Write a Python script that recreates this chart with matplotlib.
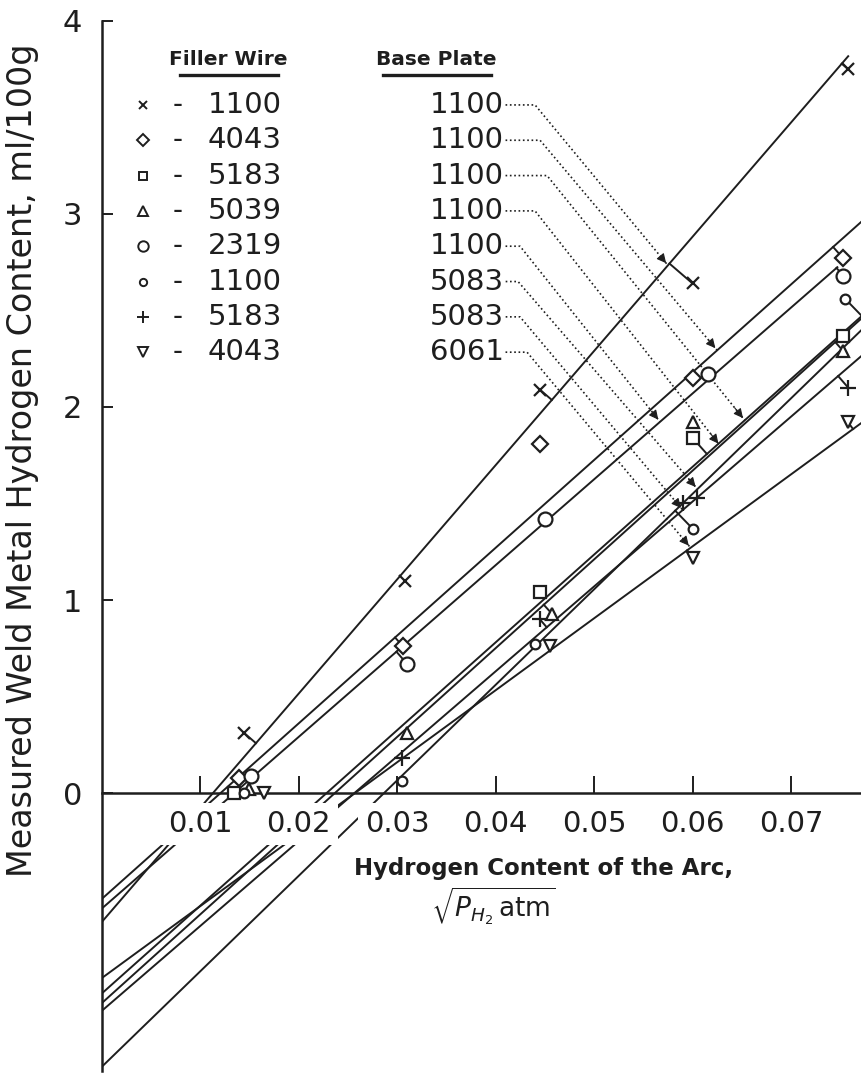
import numpy as np
import matplotlib.pyplot as plt

plt.rcParams['font.family'] = ['DejaVu Sans']
plt.rcParams['mathtext.fontset'] = 'dejavusans'

INK = '#1e1e1e'

# filler wire / base plate combinations
filler = ['1100', '4043', '5183', '5039', '2319', '1100', '5183', '4043']
base = ['1100', '1100', '1100', '1100', '1100', '5083', '5083', '6061']
markers = ['x', 'D', 's', '^', 'o', 'o', '+', 'v']
msizes = [8, 8, 8, 9, 10, 7, 11, 9]

# fitted lines: y = intercept + slope * x
intercepts = [-0.67, -0.55, -1.04, -1.09, -0.60, -1.42, -1.13, -0.96]
slopes = [59.2, 45.5, 45.5, 46.0, 44.5, 49.5, 44.0, 37.3]
x_end = [0.0758, 0.078, 0.078, 0.078, 0.0747, 0.078, 0.078, 0.078]

# measured points, sqrt(P_H2) vs ml/100g
x_1100_1100 = [0.0145, 0.0308, 0.0445, 0.0600, 0.0758]
y_1100_1100 = [0.31, 1.10, 2.09, 2.64, 3.75]
x_4043_1100 = [0.0140, 0.0306, 0.0445, 0.0600, 0.0753]
y_4043_1100 = [0.08, 0.76, 1.81, 2.15, 2.77]
x_5183_1100 = [0.0135, 0.0445, 0.0600, 0.0753]
y_5183_1100 = [0.00, 1.04, 1.84, 2.37]
x_5039_1100 = [0.0150, 0.0310, 0.0457, 0.0600, 0.0753]
y_5039_1100 = [0.02, 0.31, 0.93, 1.92, 2.29]
x_2319_1100 = [0.0152, 0.0310, 0.0450, 0.0616, 0.0753]
y_2319_1100 = [0.09, 0.67, 1.42, 2.17, 2.68]
x_1100_5083 = [0.0145, 0.0305, 0.0440, 0.0600, 0.0755]
y_1100_5083 = [0.00, 0.06, 0.77, 1.37, 2.56]
x_5183_5083 = [0.0305, 0.0445, 0.0590, 0.0605, 0.0758]
y_5183_5083 = [0.18, 0.90, 1.50, 1.53, 2.10]
x_4043_6061 = [0.0165, 0.0455, 0.0600, 0.0758]
y_4043_6061 = [0.00, 0.76, 1.22, 1.92]

xs = [x_1100_1100, x_4043_1100, x_5183_1100, x_5039_1100,
      x_2319_1100, x_1100_5083, x_5183_5083, x_4043_6061]
ys = [y_1100_1100, y_4043_1100, y_5183_1100, y_5039_1100,
      y_2319_1100, y_1100_5083, y_5183_5083, y_4043_6061]

# where each leader arrow lands on its line
arrow_x = [0.0575, 0.0625, 0.0653, 0.0628, 0.0567, 0.0605, 0.0590, 0.0598]

xticks = [0.01, 0.02, 0.03, 0.04, 0.05, 0.06, 0.07]
xtick_labels = ['0.01', '0.02', '0.03', '0.04', '0.05', '0.06', '0.07']
yticks = [0, 1, 2, 3, 4]

fig = plt.figure(figsize=(8.61, 10.81), dpi=100)
ax = fig.add_axes([0.1179, 0.0093, 0.8821, 0.9713])
ax.set_xlim(0, 0.0771)
ax.set_ylim(-1.44, 4.0)
ax.set_axisbelow(False)

for s in ['top', 'right']:
    ax.spines[s].set_visible(False)
ax.spines['bottom'].set_position(('data', 0))
for s in ['left', 'bottom']:
    ax.spines[s].set_linewidth(1.8)
    ax.spines[s].set_color(INK)

ax.set_xticks(xticks)
ax.set_xticklabels(xtick_labels)
ax.set_yticks(yticks)
ax.tick_params(axis='x', direction='in', length=12, width=1.4, pad=12,
               labelsize=21, colors=INK)
ax.tick_params(axis='y', direction='in', length=8, width=1.4, pad=14,
               labelsize=22, colors=INK)
for lab in ax.get_xticklabels():
    lab.set_bbox(dict(facecolor='white', edgecolor='none', pad=5))

# regression lines
for b, m, xe in zip(intercepts, slopes, x_end):
    xx = np.array([0.0, xe])
    ax.plot(xx, b + m * xx, color=INK, lw=1.4, zorder=2)

# short connectors from off-line points to their line
px_per = ax.transData.transform([[1, 1]]) - ax.transData.transform([[0, 0]])
sx, sy = px_per[0]
for b, m, xv, yv in zip(intercepts, slopes, xs, ys):
    for x0, y0 in zip(xv, yv):
        # foot of perpendicular in pixel space
        X0, Y0 = x0 * sx, y0 * sy
        B, M = b * sy, m * sy / sx
        xf = (X0 + M * (Y0 - B)) / (1 + M * M)
        yf = B + M * xf
        d = np.hypot(X0 - xf, Y0 - yf)
        if 8 < d < 35:
            ax.plot([x0, xf / sx], [y0, yf / sy], color=INK, lw=1.4, zorder=2)

# data points
for xv, yv, mk, ms in zip(xs, ys, markers, msizes):
    ax.plot(xv, yv, ls='none', marker=mk, ms=ms, mfc='white', mec=INK,
            mew=1.6, zorder=4, clip_on=False)

# key
row_y = [3.565 - 0.183 * i for i in range(8)]
ax.text(0.0129, 3.80, 'Filler Wire', ha='center', va='center', fontsize=14.5,
        fontweight='bold', color=INK)
ax.text(0.0340, 3.80, 'Base Plate', ha='center', va='center', fontsize=14.5,
        fontweight='bold', color=INK)
ax.plot([0.0080, 0.0179], [3.72, 3.72], color=INK, lw=2.4, clip_on=False)
ax.plot([0.0286, 0.0395], [3.72, 3.72], color=INK, lw=2.4, clip_on=False)

base_texts = []
for i in range(8):
    yr = row_y[i]
    ax.plot([0.0042], [yr], ls='none', marker=markers[i],
            ms=msizes[i] * 0.75, mfc='white', mec=INK, mew=1.4)
    ax.text(0.0077, yr, '-', ha='center', va='center', fontsize=20, color=INK)
    ax.text(0.0108, yr, filler[i], ha='left', va='center', fontsize=21,
            color=INK)
    t = ax.text(0.0333, yr, base[i], ha='left', va='center', fontsize=21,
                color=INK)
    base_texts.append(t)

# axis titles
ax.text(0.0449, -0.39, 'Hydrogen Content of the Arc,', ha='center',
        va='center', fontsize=16.5, fontweight='bold', color=INK,
        bbox=dict(facecolor='white', edgecolor='none', pad=4), zorder=5)
ax.text(0.0398, -0.59, r'$\sqrt{P_{H_2}\,\mathrm{atm}}$', ha='center',
        va='center', fontsize=19, color=INK,
        bbox=dict(facecolor='white', edgecolor='none', pad=2), zorder=5)
fig.text(0.026, 0.574, 'Measured Weld Metal Hydrogen Content, ml/100g',
         rotation=90, ha='center', va='center', fontsize=24, color=INK)

# dotted leaders from base plate labels to their lines
fig.canvas.draw()
renderer = fig.canvas.get_renderer()
inv = ax.transData.inverted()
bend_px = [535, 540, 547, 535, 520, 518, 520, 527]
for i, t in enumerate(base_texts):
    bb = t.get_window_extent(renderer)
    x_start = inv.transform((bb.x1 + 2, 0))[0]
    x_bend = (bend_px[i] - 101.5) / 9850
    xt = arrow_x[i]
    yt = intercepts[i] + slopes[i] * xt
    ax.plot([x_start, x_bend, xt], [row_y[i], row_y[i], yt], color=INK,
            lw=1.2, ls=(0, (1, 1.6)), zorder=3)
    dx, dy = xt - x_bend, yt - row_y[i]
    ax.annotate('', xy=(xt, yt), xytext=(xt - dx * 0.06, yt - dy * 0.06),
                arrowprops=dict(arrowstyle='-|>', color=INK, lw=0.8,
                                mutation_scale=14), zorder=3)

fig.savefig('out.png', dpi=100)
